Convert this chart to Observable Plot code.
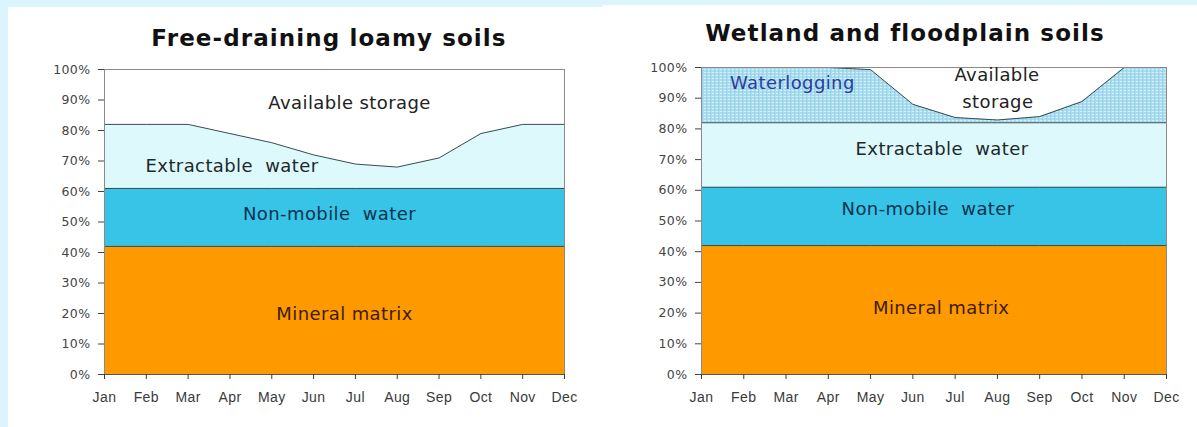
<!DOCTYPE html>
<html><head><meta charset="utf-8">
<script src="https://cdn.jsdelivr.net/npm/d3@7"></script>
<script src="https://cdn.jsdelivr.net/npm/@observablehq/plot@0.6"></script>
<style>
body{margin:0;background:#dcf5fd;width:1197px;height:427px;overflow:hidden;position:relative;font-family:"Liberation Sans",Arial,sans-serif}
.white{position:absolute;background:#fff}
.title{position:absolute;font-family:"DejaVu Sans",sans-serif;font-weight:bold;font-size:23px;letter-spacing:1.1px;line-height:26px;color:#111;white-space:nowrap;transform:translateX(-50%)}
.panel{position:absolute}
.panel text{white-space:pre}
</style></head><body>
<div class="white" style="left:8px;top:7px;width:596px;bottom:0"></div>
<div class="white" style="left:603px;top:5px;right:0;bottom:0"></div>
<div class="title" style="left:329px;top:25px">Free-draining loamy soils</div>
<div class="title" style="left:905px;top:20px">Wetland and floodplain soils</div>
<div class="panel" id="left" style="left:0;top:56px"></div>
<div class="panel" id="right" style="left:600px;top:54px"></div>
<script>
const months = ["Jan","Feb","Mar","Apr","May","Jun","Jul","Aug","Sep","Oct","Nov","Dec"];
const yTicks = [0,10,20,30,40,50,60,70,80,90,100];

// Free-draining loamy soils: upper boundary of each layer (%)
const freeMineral     = [42,42,42,42,42,42,42,42,42,42,42,42];
const freeNonMobile   = [61,61,61,61,61,61,61,61,61,61,61,61];
const freeExtractable = [82,82,82,79,76,72,69,68,71,79,82,82];

// Wetland and floodplain soils: upper boundary of each layer (%)
const wetMineral      = [42,42,42,42,42,42,42,42,42,42,42,42];
const wetNonMobile    = [61,61,61,61,61,61,61,61,61,61,61,61];
const wetExtractable  = [82,82,82,82,82,82,82,82,82,82,82,82];
const wetWaterlogging = [100,100,100,100,99.3,88,83.7,82.9,84,88.9,100,100];

// Annotations (label text and anchor in data units: month index, percent)
const freeLabels = ["Available storage","Extractable  water","Non-mobile  water","Mineral matrix"];
const freeLabelX = [5.86, 3.05, 5.38, 5.74];
const freeLabelY = [89.0, 68.2, 52.5, 19.7];
const wetLabels  = ["Waterlogging","Available","storage","Extractable  water","Non-mobile  water","Mineral matrix"];
const wetLabelX  = [2.15, 6.99, 7.01, 5.69, 5.36, 5.67];
const wetLabelY  = [94.9, 97.6, 88.7, 73.3, 53.7, 21.7];

const labelColor = {
  "Available storage":"#222","Available":"#222","storage":"#222",
  "Extractable  water":"#1c2a2c","Non-mobile  water":"#0b3350",
  "Mineral matrix":"#3d1c00","Waterlogging":"#2a3c9e"
};

const SVGNS = "http://www.w3.org/2000/svg";
function el(name, attrs, parent) {
  const e = document.createElementNS(SVGNS, name);
  for (const k in attrs) e.setAttribute(k, attrs[k]);
  parent.appendChild(e);
  return e;
}

function panel(id, cfg) {
  const rows = months.map((m, i) => ({
    i, mineral: cfg.mineral[i], nonmobile: cfg.nonmobile[i], extract: cfg.extract[i],
    waterlog: cfg.waterlog ? cfg.waterlog[i] : null
  }));
  const labels = cfg.labels.map((t, k) => ({t, x: cfg.lx[k], y: cfg.ly[k]}));
  const line = "#3a4c4e";
  const marks = [
    Plot.areaY(rows, {x: "i", y1: 0, y2: "mineral", fill: "#ff9900"}),
    Plot.areaY(rows, {x: "i", y1: "mineral", y2: "nonmobile", fill: "#38c4e7"}),
    Plot.areaY(rows, {x: "i", y1: "nonmobile", y2: "extract", fill: "#ddf9fc"})
  ];
  if (cfg.waterlog) {
    marks.push(Plot.areaY(rows, {x: "i", y1: "extract", y2: "waterlog", fill: "#a9dcef"}));
    marks.push(Plot.lineY(rows, {x: "i", y: "waterlog", stroke: line, strokeWidth: 1}));
  }
  marks.push(
    Plot.lineY(rows, {x: "i", y: "mineral", stroke: line, strokeWidth: 1}),
    Plot.lineY(rows, {x: "i", y: "nonmobile", stroke: line, strokeWidth: 1}),
    Plot.lineY(rows, {x: "i", y: "extract", stroke: line, strokeWidth: 1}),
    Plot.frame({stroke: "#8a8a8a"}),
    Plot.ruleY([0], {stroke: "#555"}),
    Plot.axisY(yTicks, {tickSize: 6, tickPadding: 8, tickFormat: d => d + "%", fontSize: 12.5, fontFamily: "DejaVu Sans", color: "#444"}),
    Plot.axisX(d3.range(12), {tickSize: 5, tickPadding: 13, tickFormat: i => months[i], fontSize: 14, color: "#3a3a3a"}),
    Plot.text(labels, {x: "x", y: "y", text: "t", fill: d => labelColor[d.t], fontSize: 18, fontFamily: "DejaVu Sans", lineAnchor: "middle", textAnchor: "middle"})
  );
  const chart = Plot.plot({
    width: cfg.width, height: cfg.height,
    marginLeft: cfg.ml, marginRight: cfg.mr, marginTop: 13, marginBottom: cfg.height - 13 - cfg.ph,
    x: {type: "linear", domain: [0, 11], axis: null},
    y: {domain: [0, 100], axis: null},
    style: {background: "transparent", overflow: "visible", fontFamily: "Liberation Sans, Arial, sans-serif"},
    marks
  });
  document.getElementById(id).append(chart);
  if (cfg.waterlog) {
    const svg = chart.tagName.toLowerCase() === "svg" ? chart : chart.querySelector("svg");
    const defs = document.createElementNS(SVGNS, "defs");
    svg.insertBefore(defs, svg.firstChild);
    const p = el("pattern", {id: "wlpat", patternUnits: "userSpaceOnUse", width: 4, height: 3}, defs);
    el("rect", {x: 0, y: 0, width: 4, height: 3, fill: "#a9dcef"}, p);
    el("rect", {x: 0, y: 0, width: 2, height: 1, fill: "#d6f0f9"}, p);
    el("rect", {x: 2, y: 1.5, width: 1, height: 1, fill: "#7fc2dc"}, p);
    const areas = svg.querySelectorAll('g[aria-label="area"]');
    const wl = areas[3];
    if (wl) {
      wl.setAttribute("fill", "url(#wlpat)");
      wl.querySelectorAll("path").forEach(pth => pth.setAttribute("fill", "url(#wlpat)"));
    }
  }
  chart.querySelectorAll("text").forEach(t => t.style.letterSpacing = "0.4px");
}

panel("left", {width: 600, height: 358, ph: 305, ml: 104, mr: 36,
  mineral: freeMineral, nonmobile: freeNonMobile, extract: freeExtractable,
  labels: freeLabels, lx: freeLabelX, ly: freeLabelY});
panel("right", {width: 597, height: 360, ph: 307, ml: 101, mr: 31,
  mineral: wetMineral, nonmobile: wetNonMobile, extract: wetExtractable, waterlog: wetWaterlogging,
  labels: wetLabels, lx: wetLabelX, ly: wetLabelY});
</script>
</body></html>
